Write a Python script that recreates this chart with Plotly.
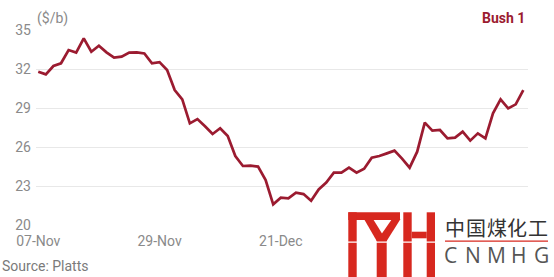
import plotly.graph_objects as go
import pandas as pd

# ---- data ----
dates = [d.strftime("%d-%b") for d in pd.bdate_range("2016-11-07", periods=65)]
prices = [31.79, 31.59, 32.23, 32.44, 33.46, 33.26, 34.36, 33.33, 33.79, 33.28,
          32.87, 32.95, 33.26, 33.28, 33.20, 32.44, 32.53, 31.92, 30.38, 29.67,
          27.82, 28.15, 27.60, 27.00, 27.44, 26.85, 25.31, 24.54, 24.56, 24.49,
          23.46, 21.59, 22.10, 22.05, 22.49, 22.38, 21.87, 22.74, 23.26, 24.03,
          24.03, 24.41, 24.03, 24.33, 25.18, 25.31, 25.51, 25.72, 25.10, 24.41,
          25.64, 27.87, 27.26, 27.31, 26.67, 26.72, 27.18, 26.49, 27.05, 26.67,
          28.59, 29.67, 28.97, 29.28, 30.38]
x_ticks = ["07-Nov", "29-Nov", "21-Dec"]
y_ticks = [20, 23, 26, 29, 32, 35]
series_name = "Bush 1"
unit_label = "($/b)"
source_label = "Source: Platts"
logo_cn = "中国煤化工"
logo_en = "CNMHG"

W, H = 554, 277
L, R, T, B = 36, 528, 30, 225  # plot area in pixels


def px(x):
    return (x - L) / (R - L)


def py(y):
    return (B - y) / (B - T)


fig = go.Figure()
fig.add_trace(go.Scatter(x=dates, y=prices, mode="lines",
                         line=dict(color="#9b1b30", width=2.7),
                         name=series_name, showlegend=False))

grey = "#8a8a8a"
fig.update_layout(
    width=W, height=H,
    margin=dict(l=L, r=W - R, t=T, b=H - B),
    paper_bgcolor="white", plot_bgcolor="white",
    font=dict(family="Roboto", size=14, color=grey),
    xaxis=dict(type="category", range=[-0.3, 64.62], tickmode="array",
               tickvals=x_ticks, ticktext=x_ticks, showgrid=False,
               zeroline=False, showline=False, ticks="",
               tickfont=dict(size=14, color=grey), ticklabelstandoff=6),
    yaxis=dict(range=[20, 35], tickvals=y_ticks, showgrid=True,
               gridcolor="#e8e8e8", gridwidth=1, zeroline=False,
               showline=False, ticks="", tickfont=dict(size=14, color=grey),
               ticklabelstandoff=4),
)

ann = []
ann.append(dict(text=unit_label, x=px(35), y=py(19), xref="paper", yref="paper",
                xanchor="left", yanchor="middle", showarrow=False,
                font=dict(size=14, color=grey)))
ann.append(dict(text="<b>" + series_name + "</b>", x=px(527), y=py(18),
                xref="paper", yref="paper", xanchor="right", yanchor="middle",
                showarrow=False, font=dict(size=14, color="#9b1b30")))
ann.append(dict(text=source_label, x=px(0), y=py(266), xref="paper", yref="paper",
                xanchor="left", yanchor="middle", showarrow=False,
                font=dict(size=14, color="#7a7a7a")))

# ---- watermark logo ----
red = "#d7281f"
shapes = []
shapes.append(dict(type="rect", xref="paper", yref="paper", x0=px(344), x1=px(554),
                   y0=py(208), y1=py(277), fillcolor="white", line_width=0,
                   layer="above"))


def rect(x0, y0, x1, y1, color=red):
    shapes.append(dict(type="rect", xref="paper", yref="paper", x0=px(x0), x1=px(x1),
                       y0=py(y0), y1=py(y1), fillcolor=color, line_width=0,
                       layer="above"))


def poly(pts, color=red):
    path = "M " + " L ".join(f"{px(a)},{py(b)}" for a, b in pts) + " Z"
    shapes.append(dict(type="path", xref="paper", yref="paper", path=path,
                       fillcolor=color, line_width=0, layer="above"))


rect(348.3, 212.3, 400, 220)          # top bar
rect(348.3, 212.3, 356.7, 277)        # left bar
rect(376.7, 238, 386.7, 277)          # stem
poly([(364, 219), (373, 219), (386.7, 241), (376.7, 241)])   # left arm
poly([(392, 219), (400.5, 219), (386.7, 241), (376.7, 241)])  # right arm
rect(403.3, 212.3, 411.7, 277)        # H left
rect(426.7, 212.3, 435, 277)          # H right
rect(411.7, 231.7, 426.7, 238.3)      # H cross
rect(344, 241.6, 440, 242.8, color="white")  # white gap line
rect(445, 240.5, 548, 241.8)          # red underline

for i, ch in enumerate(logo_cn):
    ann.append(dict(text=ch, x=px(455.3 + 20.6 * i), y=py(227.5), xref="paper",
                    yref="paper", xanchor="center", yanchor="middle",
                    showarrow=False,
                    font=dict(family="Noto Sans CJK SC", size=20, color="#333333")))
for i, ch in enumerate(logo_en):
    ann.append(dict(text=ch, x=px(450.7 + 22.75 * i), y=py(255.5), xref="paper",
                    yref="paper", xanchor="center", yanchor="middle",
                    showarrow=False,
                    font=dict(family="Open Sans", size=21, color="#555555")))

fig.update_layout(annotations=ann, shapes=shapes)
fig.write_html("out.html")
